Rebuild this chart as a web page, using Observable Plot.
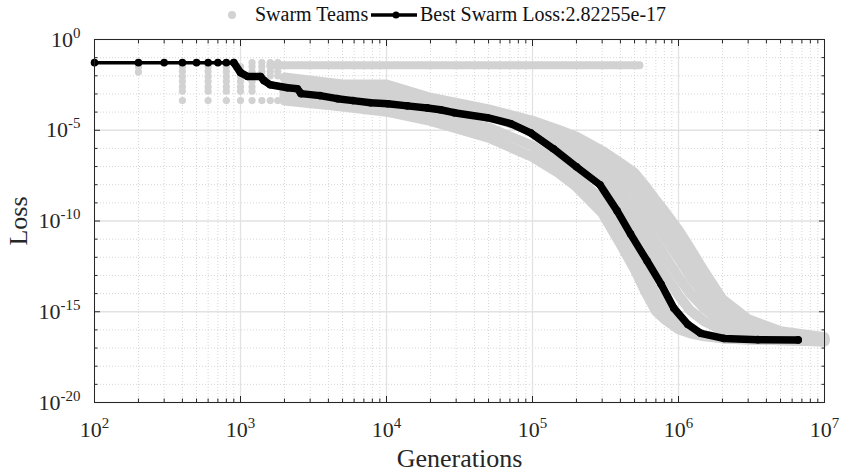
<!DOCTYPE html>
<html><head><meta charset="utf-8">
<script src="https://cdn.jsdelivr.net/npm/d3@7"></script>
<script src="https://cdn.jsdelivr.net/npm/@observablehq/plot@0.6"></script>
<style>
body{margin:0;background:#fff;}
#legend{position:relative;width:841px;height:28px;font-family:"Liberation Serif",serif;font-size:20px;color:#111;}
#legend span.t{position:absolute;top:3px;white-space:nowrap;}
</style></head><body>
<div id="legend">
  <span style="position:absolute;left:228px;top:11px;width:8px;height:8px;border-radius:50%;background:#d2d2d2"></span>
  <span class="t" style="left:255px">Swarm Teams</span>
  <svg style="position:absolute;left:370px;top:9px" width="48" height="12"><line x1="1" x2="47" y1="6" y2="6" stroke="#000" stroke-width="3.5"/><circle cx="26" cy="6" r="3.5" fill="#000"/></svg>
  <span class="t" style="left:420px">Best Swarm Loss:2.82255e-17</span>
</div>
<div id="chart"></div>
<script>
// ---- axis ticks ----
const xTickValues = [1e2, 1e3, 1e4, 1e5, 1e6, 1e7];
const yTickValues = [1e0, 1e-5, 1e-10, 1e-15, 1e-20];
const xDecades = [1e2, 1e3, 1e4, 1e5, 1e6];
const xMultipliers = [2, 3, 4, 5, 6, 7, 8, 9];
const yMinorExponents = [-1,-2,-3,-4,-6,-7,-8,-9,-11,-12,-13,-14,-16,-17,-18,-19];
const xMinor = xDecades.flatMap(d => xMultipliers.map(m => m * d));
const yMinor = yMinorExponents.map(e => Math.pow(10, e));

// ---- best swarm loss (black) ----
const blackGen = [100, 200, 300, 400, 500, 600, 700, 800, 900, 1000, 1120, 1370, 1450, 1600, 2100, 2450, 2600, 3500, 4600, 5900, 7800, 1.02e4, 1.39e4, 1.9e4, 2.34e4, 2.9e4, 4.9e4, 7.1e4, 9.7e4, 1.39e5, 2.0e5, 2.9e5, 3.8e5, 4.7e5, 6.1e5, 7.6e5, 9.3e5, 1.16e6, 1.42e6, 2.04e6, 3.5e6, 6.6e6];
const blackLoss = [5.3e-2, 5.3e-2, 5.3e-2, 5.3e-2, 5.3e-2, 5.3e-2, 5.3e-2, 5.3e-2, 5.3e-2, 1.5e-2, 9.1e-3, 9.1e-3, 5.4e-3, 3.2e-3, 2.2e-3, 1.95e-3, 1.04e-3, 8.1e-4, 5.5e-4, 4.3e-4, 3.3e-4, 2.9e-4, 2.2e-4, 1.7e-4, 1.35e-4, 9.3e-5, 4.9e-5, 2.3e-5, 7.2e-6, 9.5e-7, 9.6e-8, 9.8e-9, 3.6e-10, 1.9e-11, 6.2e-13, 3.3e-14, 1.56e-15, 2.0e-16, 6.5e-17, 3.4e-17, 2.9e-17, 2.82e-17];

// ---- swarm teams (gray) ----
const teamGen = [2e3, 5e3, 1e4, 2e4, 5e4, 1e5, 1.5e5, 2e5, 3e5, 4e5, 5e5, 6e5, 7e5, 8e5, 1e6, 1.2e6, 1.5e6, 2e6, 3e6, 5e6, 1e7];
const teamU  = [8.0e-3, 3.3e-3, 3.3e-3, 6.2e-4, 1.4e-4, 3.3e-5, 1.07e-5, 4.4e-6, 7.4e-7, 1.6e-7, 4.5e-8, 7.6e-9, 1.4e-9, 3.6e-10, 3.2e-11, 3.2e-12, 1.7e-13, 4.9e-15, 3.9e-16, 8.4e-17, 3.9e-17];
const teamB4 = [2.5e-3, 1.5e-3, 1.2e-3, 4.8e-4, 1.2e-4, 2.9e-5, 8.4e-6, 3.0e-6, 3.9e-7, 6.6e-8, 1.26e-8, 1.86e-9, 3.1e-10, 6.8e-11, 5.4e-12, 5.4e-13, 3.7e-14, 2.0e-15, 2.3e-16, 7.4e-17, 3.4e-17];
const teamB3 = [1.5e-3, 9.1e-4, 7.1e-4, 3.8e-4, 1.05e-4, 2.3e-5, 5.6e-6, 1.8e-6, 2.1e-7, 2.4e-8, 3.5e-9, 4.6e-10, 6.8e-11, 1.3e-11, 9.0e-13, 9.1e-14, 8.2e-15, 7.3e-16, 1.4e-16, 5.7e-17, 3.4e-17];
const teamB2 = [1.2e-3, 7.1e-4, 4.8e-4, 2.6e-4, 8.2e-5, 1.4e-5, 2.6e-6, 6.5e-7, 6.6e-8, 4.5e-9, 4.6e-10, 5.3e-11, 6.9e-12, 1.3e-12, 8.1e-14, 1.05e-14, 1.56e-15, 2.6e-16, 8.4e-17, 4.4e-17, 3.0e-17];
const teamB1 = [8.1e-4, 5.5e-4, 3.8e-4, 2.0e-4, 6.3e-5, 9.4e-6, 1.4e-6, 2.7e-7, 2.4e-8, 9.9e-10, 6.0e-11, 6.9e-12, 8.0e-13, 1.3e-13, 8.2e-15, 1.2e-15, 3.0e-16, 9.5e-17, 5.0e-17, 3.4e-17, 2.7e-17];
const teamM1 = [6.2e-4, 3.3e-4, 1.7e-4, 7.2e-5, 1.4e-5, 1.4e-6, 1.6e-7, 2.7e-8, 1.4e-9, 3.6e-11, 1.3e-12, 9.1e-14, 9.3e-15, 2.0e-15, 3.0e-16, 9.5e-17, 5.0e-17, 3.4e-17, 3.0e-17, 2.7e-17, 2.3e-17];
const teamLw = [4.3e-4, 2.0e-4, 1.05e-4, 3.3e-5, 3.9e-6, 3.4e-7, 4.5e-8, 7.6e-9, 2.8e-10, 5.4e-12, 2.2e-13, 1.05e-14, 1.07e-15, 3.9e-16, 1.08e-16, 6.5e-17, 4.4e-17, 3.4e-17, 3.0e-17, 2.7e-17, 2.3e-17];
const stuckGen = [1.6e3, 5.4e5];
const stuckLoss = [3.8e-2, 3.8e-2];
const earlyGen = [200, 200,
  400, 400, 400, 400, 400, 400, 400,
  600, 600, 600, 600, 600, 600, 600,
  800, 800, 800, 800, 800, 800, 800,
  1000, 1000, 1000, 1000, 1000, 1000, 1000,
  1200, 1200, 1200, 1200, 1200, 1200, 1200,
  1400, 1400, 1400, 1400, 1400,
  1600, 1600, 1600, 1600, 1600,
  1800, 1800, 1800, 1800, 1800];
const earlyLoss = [3.2e-2, 1.6e-2,
  3.2e-2, 1.7e-2, 9.1e-3, 4.8e-3, 2.5e-3, 1.4e-3, 4.3e-4,
  3.2e-2, 1.7e-2, 9.1e-3, 4.8e-3, 2.5e-3, 1.4e-3, 4.3e-4,
  3.2e-2, 1.7e-2, 9.1e-3, 4.8e-3, 2.5e-3, 1.4e-3, 4.3e-4,
  3.2e-2, 1.7e-2, 9.1e-3, 4.8e-3, 2.5e-3, 1.4e-3, 4.3e-4,
  5.4e-2, 3.2e-2, 1.7e-2, 4.8e-3, 2.5e-3, 1.4e-3, 4.3e-4,
  5.4e-2, 3.2e-2, 1.7e-2, 1.0e-2, 4.3e-4,
  5.4e-2, 3.2e-2, 1.7e-2, 1.0e-2, 4.3e-4,
  5.4e-2, 3.2e-2, 1.7e-2, 1.0e-2, 4.3e-4];

const teams = [["U", teamU], ["B4", teamB4], ["B3", teamB3], ["B2", teamB2], ["B1", teamB1], ["M1", teamM1], ["Lw", teamLw]];
const teamRows = teams.flatMap(([name, vals]) => vals.map((v, i) => ({team: name, gen: teamGen[i], loss: v})));
const stuckRows = stuckGen.map((g, i) => ({gen: g, loss: stuckLoss[i]}));
const earlyRows = earlyGen.map((g, i) => ({gen: g, loss: earlyLoss[i]}));
const blackRows = blackGen.map((g, i) => ({gen: g, loss: blackLoss[i]}));

const gray = "#d2d2d2";
const fmt = d => "10^" + Math.round(Math.log10(d));
const blank = () => "";

const svg = Plot.plot({
  width: 841, height: 443,
  marginLeft: 94, marginRight: 17, marginTop: 11, marginBottom: 69,
  style: {fontFamily: '"Liberation Serif", serif', fontSize: "22px", color: "#262626", background: "white", overflow: "visible"},
  x: {type: "log", domain: [1e2, 1e7]},
  y: {type: "log", domain: [1e-20, 1e0]},
  marks: [
    Plot.gridX(xMinor, {stroke: "#d6d6d6", strokeOpacity: 1, strokeDasharray: "1,2"}),
    Plot.gridY(yMinor, {stroke: "#d6d6d6", strokeOpacity: 1, strokeDasharray: "1,2"}),
    Plot.gridX(xTickValues, {stroke: "#e2e2e2", strokeOpacity: 1, strokeWidth: 1.3}),
    Plot.gridY(yTickValues, {stroke: "#e2e2e2", strokeOpacity: 1, strokeWidth: 1.3}),
    Plot.line(teamRows, {x: "gen", y: "loss", z: "team", stroke: gray, strokeWidth: 10, strokeLinecap: "round", strokeLinejoin: "round"}),
    Plot.line(stuckRows, {x: "gen", y: "loss", stroke: gray, strokeWidth: 8, strokeLinecap: "round"}),
    Plot.dot(earlyRows, {x: "gen", y: "loss", r: 3.6, fill: gray}),
    Plot.line(blackRows, {x: "gen", y: "loss", stroke: "#000", strokeWidth: 3.5}),
    Plot.line(blackRows.filter(d => d.gen >= 900), {x: "gen", y: "loss", stroke: "#000", strokeWidth: 7.5, strokeLinecap: "round", strokeLinejoin: "round"}),
    Plot.dot(blackRows, {x: "gen", y: "loss", r: 3.8, fill: "#000"}),
    Plot.frame({stroke: "#262626"}),
    Plot.axisX(xTickValues, {anchor: "bottom", tickSize: 0, tickPadding: 19, tickFormat: fmt, label: "Generations", labelAnchor: "center", labelOffset: 64, labelArrow: "none"}),
    Plot.axisY(yTickValues, {anchor: "left", tickSize: 0, tickPadding: 14, tickFormat: fmt, label: "Loss", labelAnchor: "center", labelOffset: 86, labelArrow: "none"}),
    Plot.axisX(xTickValues, {anchor: "bottom", tickSize: -6, tickFormat: blank, label: null}),
    Plot.axisX(xTickValues, {anchor: "top", tickSize: -6, tickFormat: blank, label: null}),
    Plot.axisX(xMinor, {anchor: "bottom", tickSize: -3.5, tickFormat: blank, label: null}),
    Plot.axisX(xMinor, {anchor: "top", tickSize: -3.5, tickFormat: blank, label: null}),
    Plot.axisY(yTickValues, {anchor: "left", tickSize: -6, tickFormat: blank, label: null}),
    Plot.axisY(yTickValues, {anchor: "right", tickSize: -6, tickFormat: blank, label: null}),
    Plot.axisY(yMinor, {anchor: "left", tickSize: -3.5, tickFormat: blank, label: null}),
    Plot.axisY(yMinor, {anchor: "right", tickSize: -3.5, tickFormat: blank, label: null})
  ]
});

// superscript exponents on tick labels
svg.querySelectorAll('g[aria-label$="tick label"] text').forEach(t => {
  const m = (t.textContent || "").match(/^10\^(.+)$/);
  if (!m) return;
  t.textContent = "10";
  const ts = document.createElementNS("http://www.w3.org/2000/svg", "tspan");
  ts.setAttribute("dy", "-0.6em");
  ts.setAttribute("font-size", "0.68em");
  ts.textContent = m[1];
  t.appendChild(ts);
});
svg.querySelectorAll('g[aria-label="x-axis label"] text, g[aria-label="y-axis label"] text').forEach(t => {
  t.setAttribute("font-size", "26px");
});
document.getElementById("chart").appendChild(svg);
</script>
</body></html>
